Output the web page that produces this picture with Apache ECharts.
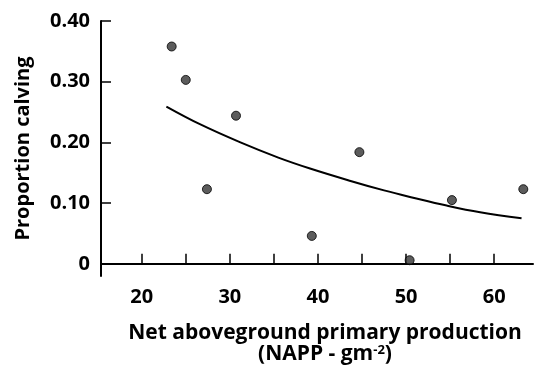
<!DOCTYPE html>
<html>
<head>
<meta charset="utf-8">
<script src="https://cdn.jsdelivr.net/npm/echarts@6/dist/echarts.min.js"></script>
<style>
html,body{margin:0;padding:0;background:#fff;}
#chart{width:534px;height:370px;}
</style>
</head>
<body>
<div id="chart"></div>
<script>
// Observed points (NAPP, proportion calving)
const pointX = [23.4, 25.0, 27.4, 30.7, 39.3, 44.7, 50.4, 55.2, 63.3];
const pointY = [0.358, 0.303, 0.123, 0.244, 0.046, 0.184, 0.006, 0.105, 0.123];
// Fitted curve
const curveX = [22.8, 26.6, 31.2, 35.5, 39.1, 43.6, 47.5, 50.8, 54.6, 58.4, 63.1];
const curveY = [0.259, 0.230, 0.200, 0.175, 0.157, 0.137, 0.121, 0.109, 0.096, 0.085, 0.075];
// Ticks and labels
const xTicks = [20, 25, 30, 35, 40, 45, 50, 55, 60];
const xLabels = [20, 30, 40, 50, 60];
const yTicks = [0, 0.1, 0.2, 0.3, 0.4];
const yLabelText = {'0': '0', '0.1': '0.10', '0.2': '0.20', '0.3': '0.30', '0.4': '0.40'};

const font = '"Open Sans", "DejaVu Sans", sans-serif';
const chart = echarts.init(document.getElementById('chart'), null, {renderer: 'canvas'});
chart.setOption({
  animation: false,
  backgroundColor: '#fff',
  grid: {left: 101, top: 21, right: 1, bottom: 93, containLabel: false},
  xAxis: {
    type: 'value', min: 15.38, max: 64.4,
    splitLine: {show: false},
    axisLine: {show: true, lineStyle: {color: '#000', width: 2}},
    axisTick: {show: true, inside: true, length: 10, customValues: xTicks, lineStyle: {color: '#000', width: 1.5}},
    axisLabel: {show: true, customValues: xLabels, margin: 11, color: '#000', fontSize: 20, fontWeight: 'bold', fontFamily: font},
    name: '{a|Net aboveground primary production}\n{a|(NAPP - gm}{s|-2}{a|)}',
    nameLocation: 'middle', nameGap: 47,
    nameTextStyle: {
      padding: [0, 0, 0, 16],
      rich: {
        a: {fontSize: 21, fontWeight: 'bold', fontFamily: font, color: '#000', lineHeight: 21},
        s: {fontSize: 13, fontWeight: 'bold', fontFamily: font, color: '#000', verticalAlign: 'top', lineHeight: 21, padding: [0, 0, 6, 0]}
      }
    }
  },
  yAxis: {
    type: 'value', min: -0.02, max: 0.4,
    splitLine: {show: false},
    axisLine: {show: true, lineStyle: {color: '#000', width: 2}},
    axisTick: {show: true, inside: true, length: 10, customValues: yTicks, lineStyle: {color: '#000', width: 1.5}},
    axisLabel: {show: true, customValues: yTicks, margin: 11, color: '#000', fontSize: 20, fontWeight: 'bold', fontFamily: font,
      formatter: v => yLabelText[String(Math.round(v * 10) / 10)]},
    name: 'Proportion calving', nameLocation: 'middle', nameGap: 68, nameRotate: 90,
    nameTextStyle: {fontSize: 20, fontWeight: 'bold', fontFamily: font, color: '#000'}
  },
  series: [
    {
      type: 'line', data: curveX.map((x, i) => [x, curveY[i]]), smooth: 0.4, symbol: 'none',
      lineStyle: {color: '#000', width: 2}, z: 2
    },
    {
      type: 'scatter', data: pointX.map((x, i) => [x, pointY[i]]), symbol: 'circle', symbolSize: 9,
      itemStyle: {color: '#333', borderColor: '#000', borderWidth: 1}, z: 3
    }
  ]
});
</script>
</body>
</html>
